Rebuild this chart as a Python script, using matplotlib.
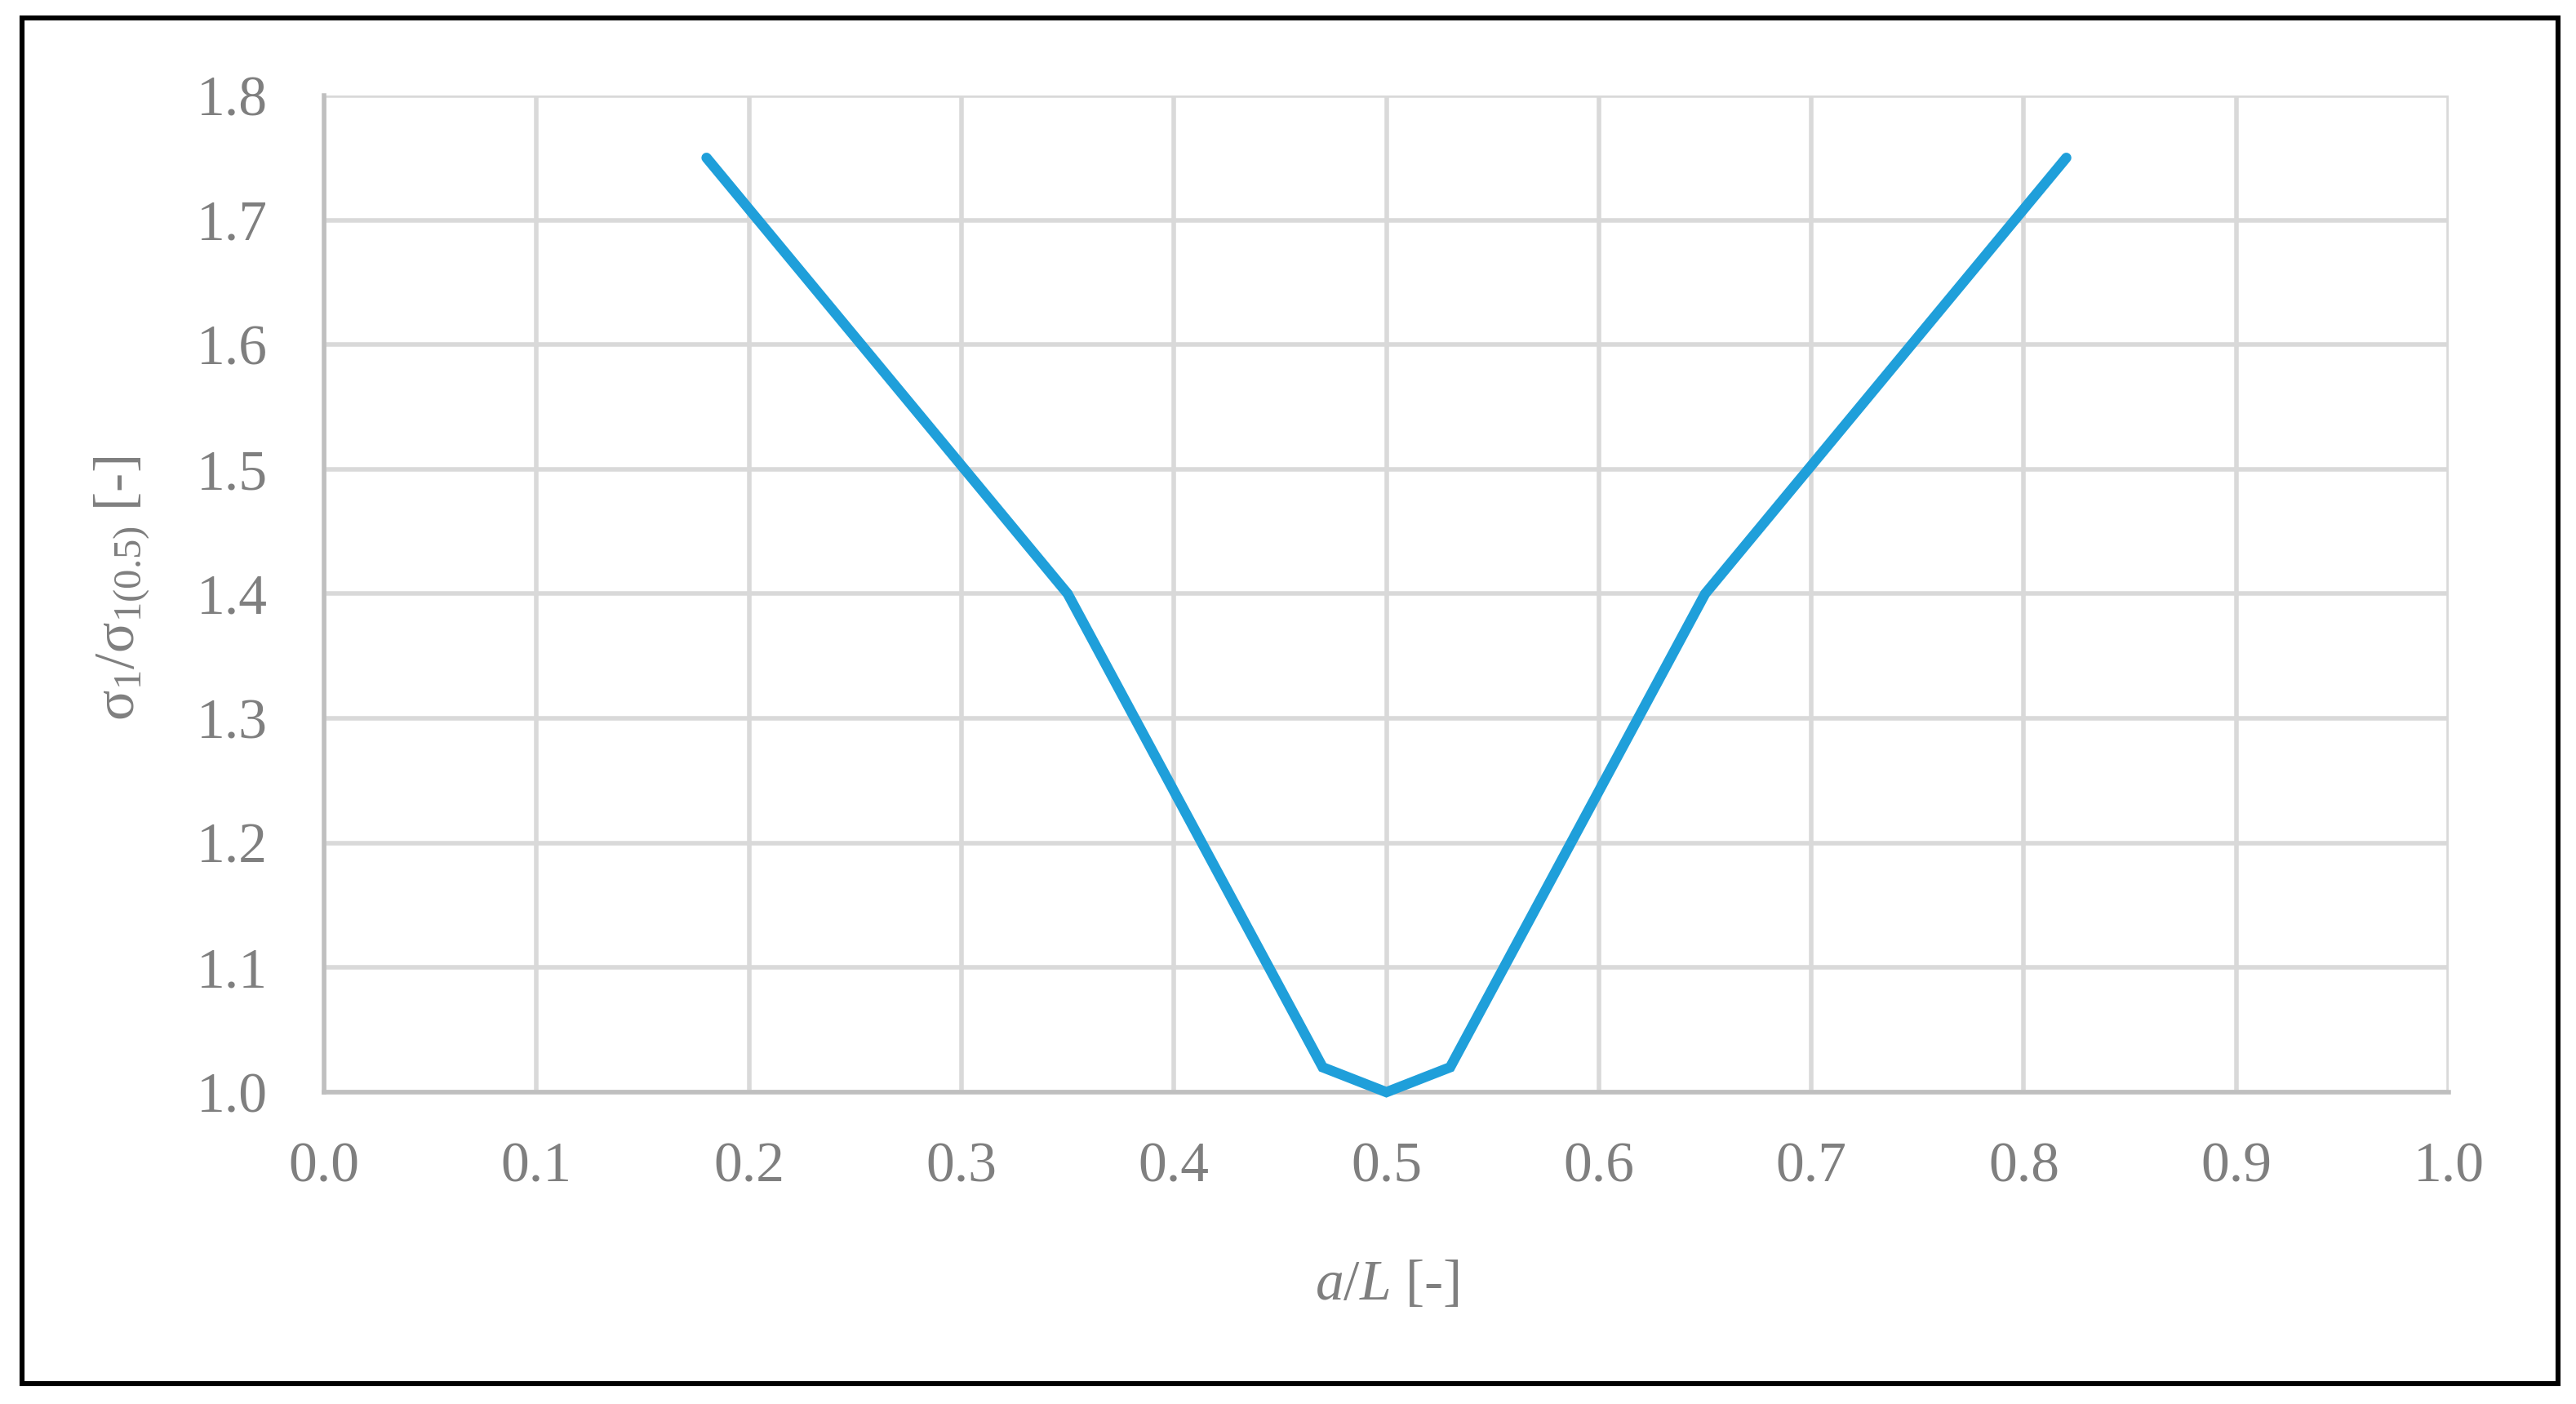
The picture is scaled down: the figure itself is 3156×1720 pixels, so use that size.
import matplotlib
matplotlib.use("Agg")
import matplotlib.pyplot as plt
from matplotlib.patches import Rectangle

# a/L values and normalised stress sigma_1 / sigma_1(0.5)
a_over_L = [0.18, 0.35, 0.47, 0.50, 0.53, 0.65, 0.82]
sigma_ratio = [1.75, 1.40, 1.02, 1.00, 1.02, 1.40, 1.75]

x_ticks = [0.0, 0.1, 0.2, 0.3, 0.4, 0.5, 0.6, 0.7, 0.8, 0.9, 1.0]
y_ticks = [1.0, 1.1, 1.2, 1.3, 1.4, 1.5, 1.6, 1.7, 1.8]

plt.rcParams["font.family"] = ["Liberation Serif", "DejaVu Serif"]
plt.rcParams["mathtext.fontset"] = "custom"
plt.rcParams["mathtext.rm"] = "Liberation Serif"
plt.rcParams["mathtext.it"] = "Liberation Serif:italic"

text_grey = "#7f7f7f"
grid_grey = "#d9d9d9"
spine_grey = "#bfbfbf"

fig = plt.figure(figsize=(15.78, 8.6), dpi=200)
ax = fig.add_axes([0.1258, 0.2221, 0.9506 - 0.1258, 0.932 - 0.2221])

ax.plot(a_over_L, sigma_ratio, color="#1f9fda", linewidth=4.5,
        solid_capstyle="round", solid_joinstyle="miter", zorder=3, clip_on=False)

ax.set_xlim(0, 1)
ax.set_ylim(1.0, 1.8)
ax.set_xticks(x_ticks)
ax.set_yticks(y_ticks)
ax.set_xticklabels([f"{v:.1f}" for v in x_ticks])
ax.set_yticklabels([f"{v:.1f}" for v in y_ticks])
ax.tick_params(axis="both", length=0, labelsize=25, labelcolor=text_grey)
ax.tick_params(axis="y", pad=25)
ax.tick_params(axis="x", pad=22)

ax.grid(True, color=grid_grey, linewidth=2.0, zorder=0)
ax.set_axisbelow(True)
for side in ["top", "right"]:
    ax.spines[side].set_visible(False)
for side in ["left", "bottom"]:
    ax.spines[side].set_color(spine_grey)
    ax.spines[side].set_linewidth(2.0)

fig.text(0.0475, 0.5810, r"σ$_1$/σ$_{1(0.5)}$ [-]", rotation=90, fontsize=25,
         color=text_grey, ha="center", va="center")
fig.text(0.5383, 0.084, r"$a$/$L$ [-]", fontsize=25, color=text_grey,
         ha="center", va="center")

# outer frame around the whole chart
fig.patches.append(Rectangle((0.0085, 0.0145), 0.9845, 0.9725, transform=fig.transFigure,
                             fill=False, edgecolor="black", linewidth=2.2))

fig.savefig("out.png", dpi=200, facecolor="white")
